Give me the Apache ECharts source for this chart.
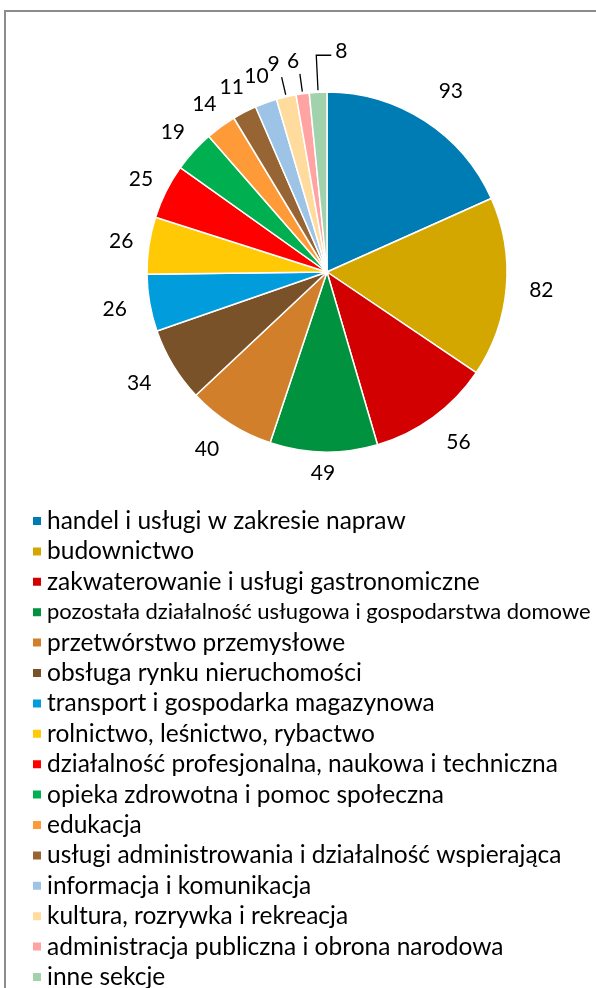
<!DOCTYPE html>
<html>
<head>
<meta charset="utf-8">
<script src="https://cdn.jsdelivr.net/npm/echarts@6/dist/echarts.min.js"></script>
<style>
  html, body { margin: 0; padding: 0; background: #fff; }
  #frame { position: absolute; left: 4px; top: 10px; width: 600px; height: 990px;
           border-top: 2px solid #8c8c8c; border-left: 2px solid #8c8c8c; }
  #chart { position: absolute; left: 0; top: 0; width: 596px; height: 988px; }
</style>
</head>
<body>
<div id="frame"></div>
<div id="chart"></div>
<script>
// sekcje PKD i liczba podmiotów
const sectors = [
  'handel i usługi w zakresie napraw',
  'budownictwo',
  'zakwaterowanie i usługi gastronomiczne',
  'pozostała działalność usługowa i gospodarstwa domowe',
  'przetwórstwo przemysłowe',
  'obsługa rynku nieruchomości',
  'transport i gospodarka magazynowa',
  'rolnictwo, leśnictwo, rybactwo',
  'działalność profesjonalna, naukowa i techniczna',
  'opieka zdrowotna i pomoc społeczna',
  'edukacja',
  'usługi administrowania i działalność wspierająca',
  'informacja i komunikacja',
  'kultura, rozrywka i rekreacja',
  'administracja publiczna i obrona narodowa',
  'inne sekcje'
];
const counts = [93, 82, 56, 49, 40, 34, 26, 26, 25, 19, 14, 11, 10, 9, 6, 8];
const colors = [
  '#007CB5', '#D3A600', '#D20000', '#00923F', '#D27F2B', '#7A5229',
  '#009CDB', '#FFCA05', '#FF0000', '#00B050', '#FF9A38', '#976533',
  '#9DC3E6', '#FFDC9E', '#FFA3A3', '#A2D2AC'
];

const font = 'Lato';
const cx = 327, cy = 272, R = 180;

const total = counts.reduce((a, b) => a + b, 0);
const midAngles = [];
let acc = 0;
counts.forEach(v => {
  midAngles.push((acc + v / 2) / total * Math.PI * 2);
  acc += v;
});

// etykiety jak w Excelu: duże wokół koła, małe z linią odniesienia
function placeLabel(params) {
  const i = params.dataIndex;
  const a = midAngles[i];
  const dx = Math.sin(a), dy = -Math.cos(a);
  if (counts[i] >= 10) {
    let r = R + 35 - 14 * Math.pow(Math.max(0, dy), 6);
    let push = 18 * dx * dy * dy;
    if (dx < 0 && dy < 0) { r -= 7; push = 0; }
    return { x: cx + dx * r + push, y: cy + dy * r, align: 'center', verticalAlign: 'middle' };
  }
  const p1 = [cx + dx * (R + 2), cy + dy * (R + 2)];
  if (dx > -0.06) {
    const p2 = [cx + dx * (R + 37), cy + dy * (R + 37)];
    const p3 = [p2[0] + 15, p2[1]];
    return {
      x: p3[0] + 4, y: p2[1] - 4, align: 'left', verticalAlign: 'middle',
      labelLinePoints: [p1, p2, p3]
    };
  }
  const r = R + 33;
  const p2 = [cx + dx * (R + 20), cy + dy * (R + 20)];
  return {
    x: cx + dx * r - 5, y: cy + dy * r, align: 'center', verticalAlign: 'middle',
    labelLinePoints: [p1, p2]
  };
}

const chart = echarts.init(document.getElementById('chart'));
chart.setOption({
  animation: false,
  color: colors,
  legend: {
    orient: 'vertical',
    left: 26,
    top: 503,
    height: 520,
    icon: 'rect',
    itemWidth: 10,
    itemHeight: 10,
    itemGap: 4.4,
    selectedMode: false,
    formatter: name => name.length > 50 ? '{narrow|' + name + '}' : name,
    textStyle: {
      fontFamily: font,
      fontSize: 24.5,
      lineHeight: 26,
      color: '#000',
      rich: {
        narrow: { fontFamily: font, fontSize: 22, lineHeight: 26, color: '#000' }
      }
    },
    data: sectors
  },
  series: [
    {
      type: 'pie',
      center: [cx, cy],
      radius: R,
      startAngle: 90,
      clockwise: true,
      avoidLabelOverlap: false,
      itemStyle: {
        borderColor: '#fff',
        borderWidth: 1.5
      },
      emphasis: { disabled: true },
      label: {
        show: true,
        position: 'outside',
        formatter: '{c}',
        fontFamily: font,
        fontSize: 21,
        color: '#000'
      },
      labelLine: {
        show: false,
        lineStyle: { color: '#000', width: 1.3 }
      },
      labelLayout: placeLabel,
      data: sectors.map((name, i) => ({
        name: name,
        value: counts[i],
        labelLine: { show: counts[i] < 10 }
      }))
    }
  ]
});
</script>
</body>
</html>
